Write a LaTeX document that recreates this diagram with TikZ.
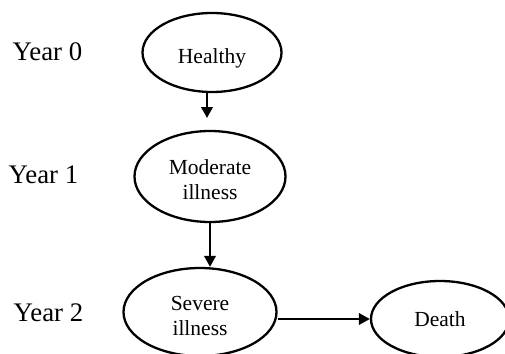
\documentclass[tikz,border=0pt]{standalone}
\usepackage{fontspec}
\setmainfont{Liberation Serif}
\usetikzlibrary{shapes.geometric,arrows.meta}
\newcommand{\lowr}[2]{\raisebox{-#1}[\height][\depth]{#2}}
\begin{document}
\begin{tikzpicture}[x=1pt,y=-1pt,
  state/.style={ellipse,draw,line width=2.3pt,inner sep=0pt,align=center,
    font=\fontsize{21.5}{25}\selectfont},
  yearlbl/.style={anchor=west,inner sep=0pt,font=\fontsize{26.8}{30}\selectfont},
  arr/.style={line width=2.2pt,-{Triangle[length=11pt,width=11.5pt]}}]
\useasboundingbox (0,0) rectangle (505,353);
\node[state,minimum width=139pt,minimum height=79pt] (healthy) at (212,52.5) {\lowr{5.5pt}{Healthy}};
\node[state,minimum width=151pt,minimum height=91pt] (moderate) at (210,176.5) {\lowr{3pt}{Moderate}\\\lowr{3pt}{illness}};
\node[state,minimum width=153pt,minimum height=88pt] (severe) at (200,312) {\lowr{4pt}{Severe}\\\lowr{4pt}{illness}};
\node[state,minimum width=138pt,minimum height=76pt] (death) at (440,319) {Death};
\node[yearlbl] (y0) at (12.5,52) {Year 0};
\node[yearlbl] (y1) at (8.5,175) {Year 1};
\node[yearlbl] (y2) at (13.5,313) {Year 2};
\coordinate (a1) at (207,118);
\draw[arr] (healthy.south -| a1) -- (a1);
\draw[arr] (moderate.south) -- (moderate.south |- severe.north);
\draw[arr] (death.west -| severe.east) -- (death.west);
\end{tikzpicture}
\end{document}
